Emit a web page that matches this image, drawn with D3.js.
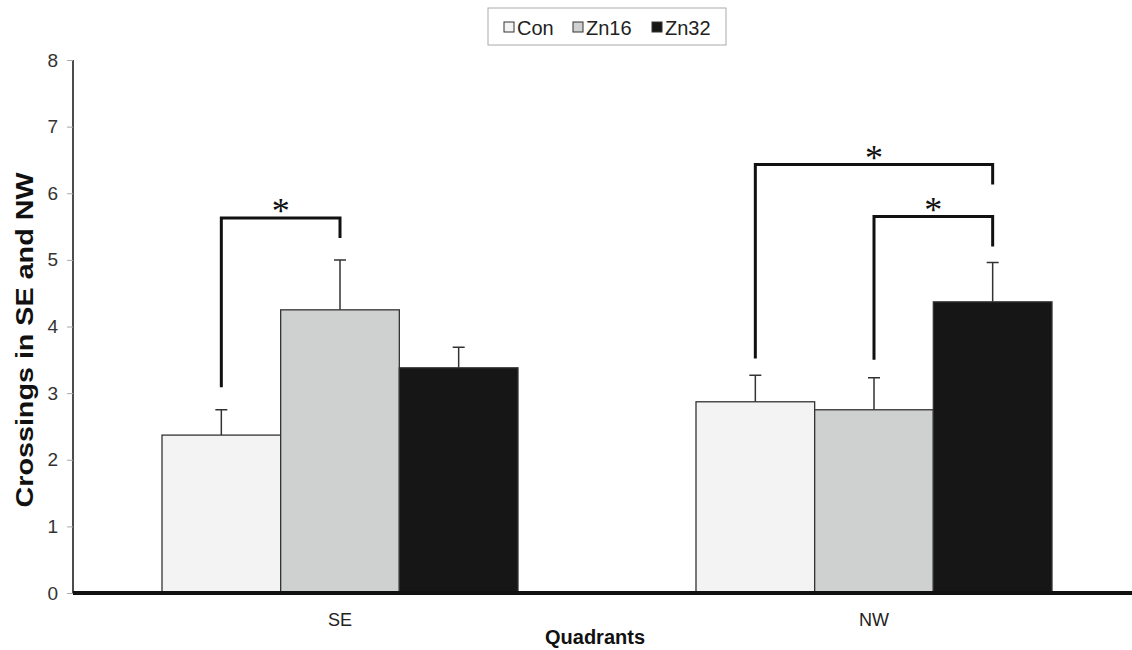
<!DOCTYPE html>
<html>
<head>
<meta charset="utf-8">
<script src="https://cdn.jsdelivr.net/npm/d3@7"></script>
<style>
  body { margin: 0; background: #fff; }
  svg { font-family: "Liberation Sans", Arial, sans-serif; }
</style>
</head>
<body>
<svg id="chart"></svg>
<script>
const quadrants = ["SE", "NW"];
const groups = ["Con", "Zn16", "Zn32"];
const colors = ["#f3f3f3", "#cfd1d0", "#161616"];
const meanSE = [2.37, 4.25, 3.38];
const errSE = [2.75, 5.0, 3.69];
const meanNW = [2.87, 2.75, 4.37];
const errNW = [3.27, 3.23, 4.96];
const yTicks = [0, 1, 2, 3, 4, 5, 6, 7, 8];

// significance brackets: quadrant, from group, to group, top, left end, right end
const brackets = [
	{ q: "SE", a: "Con", b: "Zn16", top: 5.63, left: 3.09, right: 5.33 },
	{ q: "NW", a: "Con", b: "Zn32", top: 6.43, left: 3.52, right: 6.13 },
	{ q: "NW", a: "Zn16", b: "Zn32", top: 5.65, left: 3.50, right: 5.20 }
];

const data = quadrants.map((q, i) => ({
	quadrant: q,
	values: groups.map((g, j) => ({
		group: g,
		mean: i === 0 ? meanSE[j] : meanNW[j],
		err: i === 0 ? errSE[j] : errNW[j]
	}))
}));

const W = 1132, H = 650;
const margin = { top: 60, right: 12, bottom: 57, left: 73 };
const width = W - margin.left - margin.right;
const height = H - margin.top - margin.bottom;

const svg = d3.select("#chart")
	.attr("width", W)
	.attr("height", H)
	.append("g")
	.attr("transform", `translate(${margin.left},${margin.top})`);

const x0 = d3.scaleBand()
	.domain(quadrants)
	.range([89, 979])
	.paddingInner(1 / 3)
	.paddingOuter(0);

const x1 = d3.scaleBand()
	.domain(groups)
	.range([0, x0.bandwidth()]);

const y = d3.scaleLinear()
	.domain([0, 8])
	.range([height, 0]);

const color = d3.scaleOrdinal().domain(groups).range(colors);

// y axis
const yAxis = svg.append("g")
	.call(d3.axisLeft(y).tickValues(yTicks).tickSize(6).tickPadding(9))
	.attr("font-family", null);
yAxis.select(".domain").attr("stroke", "#111").attr("stroke-width", 1.5).attr("d", `M0,0V${height}`);
yAxis.selectAll(".tick line").attr("stroke", "#aaa");
yAxis.selectAll("text").attr("font-size", "19px").attr("fill", "#333");

// bars
const gq = svg.selectAll(".quad")
	.data(data)
	.enter().append("g")
	.attr("class", "quad")
	.attr("transform", d => `translate(${x0(d.quadrant)},0)`);

gq.selectAll("rect")
	.data(d => d.values)
	.enter().append("rect")
	.attr("x", d => x1(d.group))
	.attr("y", d => y(d.mean))
	.attr("width", x1.bandwidth())
	.attr("height", d => height - y(d.mean))
	.attr("fill", d => color(d.group))
	.attr("stroke", "#333")
	.attr("stroke-width", 1.3);

// error bars (upper only)
gq.selectAll(".err")
	.data(d => d.values)
	.enter().append("path")
	.attr("class", "err")
	.attr("fill", "none")
	.attr("stroke", "#333")
	.attr("stroke-width", 1.5)
	.attr("d", d => {
		const cx = x1(d.group) + x1.bandwidth() / 2;
		return `M${cx},${y(d.mean)}V${y(d.err)}M${cx - 6},${y(d.err)}H${cx + 6}`;
	});

// x axis baseline
svg.append("line")
	.attr("x1", 0)
	.attr("x2", W - margin.left)
	.attr("y1", height)
	.attr("y2", height)
	.attr("stroke", "#111")
	.attr("stroke-width", 4);

svg.selectAll(".qlabel")
	.data(quadrants)
	.enter().append("text")
	.attr("x", d => x0(d) + x0.bandwidth() / 2)
	.attr("y", height + 33)
	.attr("text-anchor", "middle")
	.attr("font-size", "18px")
	.attr("fill", "#222")
	.text(d => d);

// significance brackets
const cx = (q, g) => x0(q) + x1(g) + x1.bandwidth() / 2;
brackets.forEach(b => {
	const xa = cx(b.q, b.a), xb = cx(b.q, b.b);
	svg.append("path")
		.attr("fill", "none")
		.attr("stroke", "#111")
		.attr("stroke-width", 3)
		.attr("d", `M${xa},${y(b.left)}V${y(b.top)}H${xb}V${y(b.right)}`);
	svg.append("text")
		.attr("x", (xa + xb) / 2)
		.attr("y", y(b.top) + 5)
		.attr("text-anchor", "middle")
		.attr("font-family", "Liberation Serif, serif")
		.attr("font-size", "36px")
		.attr("fill", "#111")
		.text("*");
});

// axis titles
svg.append("text")
	.attr("transform", "rotate(-90)")
	.attr("x", -(340 - margin.top))
	.attr("y", -margin.left + 33)
	.attr("text-anchor", "middle")
	.attr("font-size", "24px")
	.attr("font-weight", "bold")
	.attr("fill", "#111")
	.attr("textLength", 335)
	.attr("lengthAdjust", "spacingAndGlyphs")
	.text("Crossings in SE and NW");

svg.append("text")
	.attr("x", 595 - margin.left)
	.attr("y", height + 51)
	.attr("text-anchor", "middle")
	.attr("font-size", "20px")
	.attr("font-weight", "bold")
	.attr("fill", "#111")
	.text("Quadrants");

// legend
const legend = d3.select("#chart").append("g").attr("transform", "translate(488,8)");
legend.append("rect")
	.attr("width", 238)
	.attr("height", 37)
	.attr("fill", "#fff")
	.attr("stroke", "#aaa");
const legendX = [16, 85, 164];
const items = legend.selectAll(".item")
	.data(groups)
	.enter().append("g")
	.attr("transform", (d, i) => `translate(${legendX[i]},0)`);
items.append("rect")
	.attr("y", 14)
	.attr("width", 10)
	.attr("height", 10)
	.attr("fill", d => color(d))
	.attr("stroke", "#333");
items.append("text")
	.attr("x", 13)
	.attr("y", 26.5)
	.attr("font-size", "20px")
	.attr("fill", "#222")
	.text(d => d);
</script>
</body>
</html>
